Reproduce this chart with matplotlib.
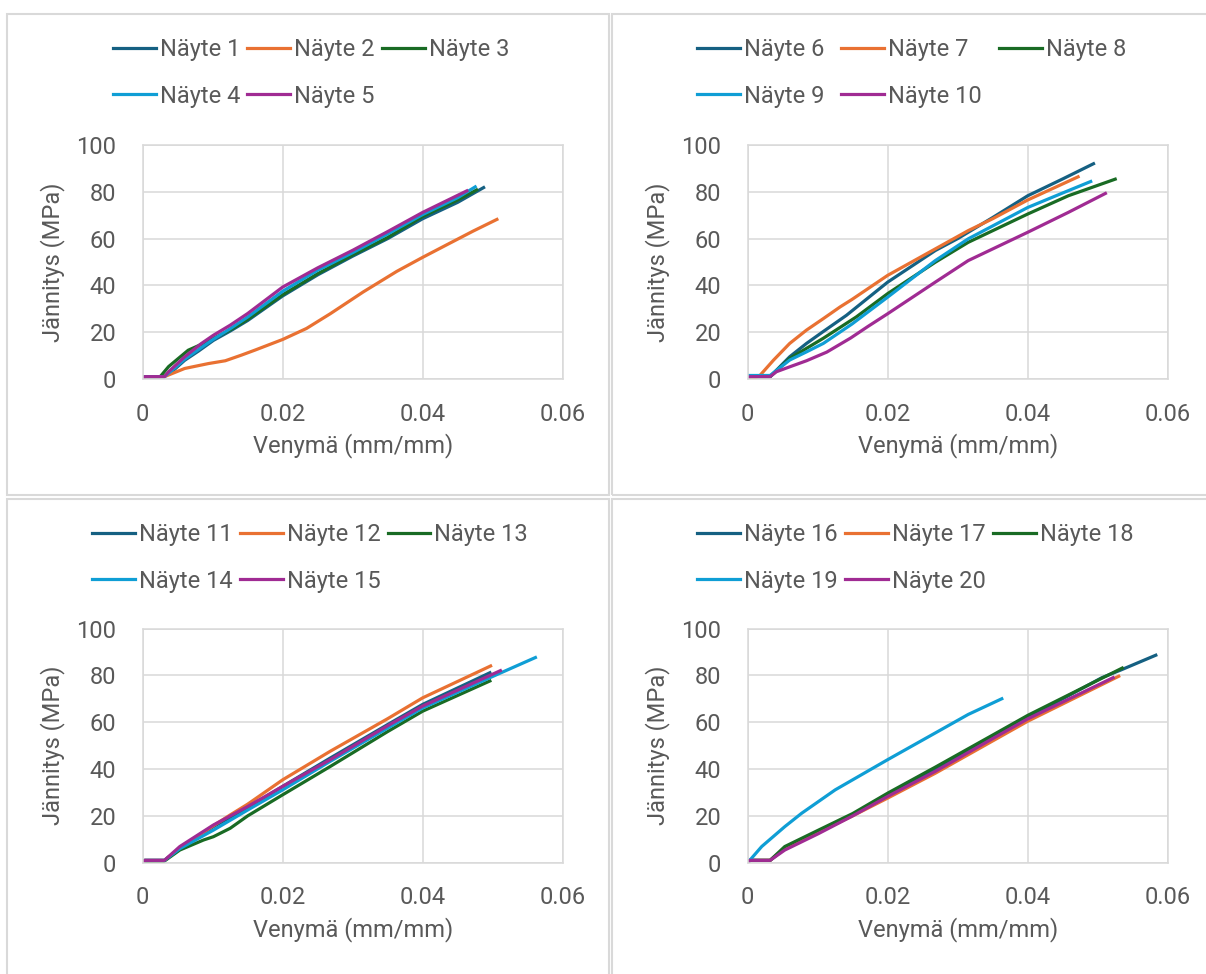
import matplotlib
matplotlib.use("Agg")
import matplotlib.pyplot as plt
from matplotlib.patches import Rectangle

plt.rcParams['font.family'] = ['Roboto', 'DejaVu Sans']

# ------------------------------
# Data (strain mm/mm, stress MPa)
# ------------------------------
n1_strain = [0, 0.0003, 0.0031, 0.0045, 0.006, 0.008, 0.0101, 0.0125, 0.015, 0.02, 0.025, 0.03, 0.035, 0.04, 0.045, 0.0487]
n1_stress = [0, 1, 1, 4, 8, 12, 16.5, 20.5, 25, 35.5, 44.5, 52.5, 60, 68.5, 75.5, 81.8]
n2_strain = [0, 0.0003, 0.0031, 0.006, 0.0094, 0.0118, 0.0141, 0.016, 0.02, 0.0234, 0.0268, 0.0315, 0.0363, 0.04, 0.0434, 0.0472, 0.0506]
n2_stress = [0, 1, 1, 4.5, 6.6, 7.8, 10.2, 12.3, 16.9, 21.6, 27.9, 37.2, 46, 52, 57.3, 63.2, 68.2]
n3_strain = [0, 0.0003, 0.0025, 0.0037, 0.0051, 0.0065, 0.008, 0.0101, 0.0125, 0.015, 0.02, 0.025, 0.03, 0.035, 0.04, 0.045, 0.0477]
n3_stress = [0, 1, 1, 5.3, 8.8, 12.3, 14.3, 17.3, 21, 25.5, 36, 45, 53, 60.5, 69.5, 76.5, 80.8]
n4_strain = [0, 0.0003, 0.0031, 0.0045, 0.006, 0.0084, 0.0101, 0.0125, 0.015, 0.02, 0.025, 0.03, 0.035, 0.04, 0.045, 0.0475]
n4_stress = [0, 1, 1, 4.5, 8.5, 13.5, 17, 21.5, 26.5, 37.5, 46.5, 54, 62, 70.3, 77.5, 82.1]
n5_strain = [0, 0.0003, 0.0031, 0.0037, 0.006, 0.0084, 0.0101, 0.0125, 0.015, 0.02, 0.025, 0.03, 0.035, 0.04, 0.0463]
n5_stress = [0, 1, 1, 3.1, 9.5, 15.2, 18.7, 23, 28, 39.3, 47.5, 55, 63, 71.2, 80.4]

n6_strain = [0, 0.0003, 0.0032, 0.006, 0.0084, 0.0108, 0.0141, 0.02, 0.0268, 0.03, 0.035, 0.04, 0.045, 0.0494]
n6_stress = [0, 1, 1, 9.5, 15.2, 20.3, 27.2, 41.4, 54.9, 60, 69, 78.3, 85.5, 92]
n7_strain = [0, 0.0008, 0.0018, 0.0037, 0.006, 0.0084, 0.0108, 0.0132, 0.0149, 0.02, 0.0268, 0.0315, 0.035, 0.04, 0.0472]
n7_stress = [0, 0, 1.7, 8.1, 15.2, 20.9, 25.8, 30.8, 34, 44.3, 55.6, 63.4, 68.5, 76.5, 86.4]
n8_strain = [0, 0.0003, 0.0032, 0.006, 0.0084, 0.0108, 0.0155, 0.02, 0.0268, 0.0315, 0.04, 0.0458, 0.0525]
n8_stress = [0, 1, 1, 8.8, 13.1, 17.4, 26.5, 36.5, 49.9, 58.4, 70.5, 78.3, 85.4]
n9_strain = [0, 0.0032, 0.006, 0.0084, 0.0108, 0.0149, 0.02, 0.0268, 0.0315, 0.04, 0.045, 0.049]
n9_stress = [1.5, 1.5, 8.1, 11.6, 15.2, 23.5, 35, 50.6, 59.9, 73.3, 79.5, 84.4]
n10_strain = [0, 0.0003, 0.0032, 0.0041, 0.006, 0.0084, 0.0113, 0.0147, 0.0172, 0.02, 0.0268, 0.0315, 0.04, 0.0458, 0.0511]
n10_stress = [0, 1, 1, 3.1, 5.2, 7.8, 11.5, 17.5, 22.5, 27.9, 41.4, 50.6, 62.7, 71.2, 79.3]

n11_strain = [0, 0.0003, 0.0031, 0.0053, 0.0101, 0.015, 0.02, 0.0268, 0.035, 0.04, 0.0496]
n11_stress = [0, 1, 1, 6, 15.4, 23.5, 32.6, 44.7, 59, 67.6, 81.1]
n12_strain = [0, 0.0003, 0.0031, 0.0053, 0.0101, 0.0125, 0.015, 0.02, 0.0268, 0.035, 0.04, 0.0497]
n12_stress = [0, 1, 1, 6.2, 15.8, 20.4, 25, 35.4, 47.6, 61.5, 70.4, 84]
n13_strain = [0, 0.003, 0.0053, 0.0087, 0.0101, 0.0125, 0.015, 0.02, 0.0268, 0.035, 0.04, 0.0496]
n13_stress = [0, 0.5, 5.4, 9.7, 11.1, 14.7, 20, 29, 41.1, 56, 64.7, 77.6]
n14_strain = [0, 0.0003, 0.0031, 0.0053, 0.0101, 0.015, 0.02, 0.0268, 0.035, 0.04, 0.0496, 0.0561]
n14_stress = [0, 1, 1, 6, 13.9, 22.5, 31.1, 43.3, 57.5, 66.1, 79, 87.6]
n15_strain = [0, 0.0003, 0.0031, 0.0053, 0.0101, 0.015, 0.02, 0.0268, 0.035, 0.04, 0.0511]
n15_stress = [0, 1, 1, 6.9, 16.1, 24, 32.6, 44, 58.5, 66.9, 82]

n16_strain = [0, 0.0003, 0.0032, 0.0053, 0.0101, 0.015, 0.02, 0.0268, 0.035, 0.04, 0.0506, 0.0534, 0.0583]
n16_stress = [0, 1, 1, 6, 13.1, 20.5, 29, 39.7, 53.5, 61.9, 79, 82.4, 88.6]
n17_strain = [0, 0.0003, 0.0032, 0.0053, 0.0101, 0.015, 0.02, 0.0268, 0.035, 0.04, 0.053]
n17_stress = [0, 1, 1, 6.2, 13, 20, 27.6, 38.2, 52, 60.4, 79.6]
n18_strain = [0, 0.0003, 0.0032, 0.0053, 0.0101, 0.015, 0.02, 0.0268, 0.035, 0.04, 0.0535]
n18_stress = [0, 1, 1, 6.9, 13.9, 21, 29.7, 40.8, 54.5, 62.9, 83.1]
n19_strain = [0, 0.002, 0.0053, 0.0077, 0.0125, 0.02, 0.0268, 0.0315, 0.0363]
n19_stress = [0, 6.9, 15.4, 21.1, 31.1, 44, 55.4, 63.3, 70]
n20_strain = [0, 0.0003, 0.0032, 0.0053, 0.0101, 0.015, 0.02, 0.0268, 0.035, 0.04, 0.0522]
n20_stress = [0, 1, 1, 5.4, 12.4, 20, 28.3, 39, 53, 61.4, 79]

x_ticks = [0, 0.02, 0.04, 0.06]
y_ticks = [0, 20, 40, 60, 80, 100]

colors = ['#156082', '#E97132', '#196B24', '#0F9ED5', '#A02B93']
grey = '#D9D9D9'
text_col = '#595959'
fs = 17

panels = [
    ([n1_strain, n2_strain, n3_strain, n4_strain, n5_strain],
     [n1_stress, n2_stress, n3_stress, n4_stress, n5_stress], range(1, 6)),
    ([n6_strain, n7_strain, n8_strain, n9_strain, n10_strain],
     [n6_stress, n7_stress, n8_stress, n9_stress, n10_stress], range(6, 11)),
    ([n11_strain, n12_strain, n13_strain, n14_strain, n15_strain],
     [n11_stress, n12_stress, n13_stress, n14_stress, n15_stress], range(11, 16)),
    ([n16_strain, n17_strain, n18_strain, n19_strain, n20_strain],
     [n16_stress, n17_stress, n18_stress, n19_stress, n20_stress], range(16, 21)),
]

# ------------------------------
# Layout in pixels
# ------------------------------
W, H = 1206, 974
fig = plt.figure(figsize=(W / 100, H / 100), dpi=100)

# plot boxes: left, top, right, bottom
boxes = [(142.7, 145, 562.7, 379), (747.7, 145, 1167.7, 379),
         (142.7, 628.5, 562.7, 862.7), (747.7, 628.5, 1167.7, 862.7)]
legend_pos = [(113, 38), (697, 38), (92, 523), (697, 523)]
col_space = [0.3, 0.72, 0.3, 0.3]
frames = [(7, 14, 609, 495), (612, 14, 1230, 495),
          (7, 499, 609, 1000), (612, 499, 1230, 1000)]

for fx0, fy0, fx1, fy1 in frames:
    fig.add_artist(Rectangle((fx0 / W, 1 - fy1 / H), (fx1 - fx0) / W, (fy1 - fy0) / H,
                             transform=fig.transFigure, fill=False, ec=grey, lw=1.5))

for i, (xs, ys, nums) in enumerate(panels):
    l, t, r, b = boxes[i]
    ax = fig.add_axes([l / W, 1 - b / H, (r - l) / W, (b - t) / H])
    lines = []
    for j, (x, y, n) in enumerate(zip(xs, ys, nums)):
        ln, = ax.plot(x, y, color=colors[j], lw=2.3, label=f"Näyte {n}")
        lines.append(ln)
    ax.set_xlim(0, 0.06)
    ax.set_ylim(0, 100)
    ax.set_xticks(x_ticks)
    ax.set_yticks(y_ticks)
    ax.set_xticklabels([f"{v:g}" for v in x_ticks])
    ax.grid(True, color=grey, lw=1.1)
    ax.set_axisbelow(True)
    for s in ax.spines.values():
        s.set_color(grey)
        s.set_linewidth(1.1)
    ax.tick_params(length=0, labelsize=fs, colors=text_col)
    ax.tick_params(axis='y', pad=19)
    ax.tick_params(axis='x', pad=17)
    ax.set_xlabel("Venymä (mm/mm)", fontsize=fs, color=text_col)
    ax.xaxis.set_label_coords(0.5, -67 / 234)
    ax.xaxis.label.set_va('center')
    ax.set_ylabel("Jännitys (MPa)", fontsize=fs, color=text_col)
    ax.yaxis.set_label_coords(-90 / 420, 0.5)
    ax.yaxis.label.set_va('center')
    ax.yaxis.label.set_ha('center')

    # legend filled row by row like the original (1 2 3 / 4 5)
    order = [0, 3, 1, 4, 2]
    lx, ly = legend_pos[i]
    ax.legend([lines[k] for k in order], [lines[k].get_label() for k in order],
              loc='upper left', bbox_to_anchor=(lx / W, 1 - ly / H),
              bbox_transform=fig.transFigure, ncol=3, frameon=False,
              fontsize=fs, labelcolor=text_col, handlelength=1.82,
              handletextpad=0.17, columnspacing=col_space[i],
              labelspacing=1.0, borderpad=0, borderaxespad=0)

plt.savefig("out.png", dpi=100)
